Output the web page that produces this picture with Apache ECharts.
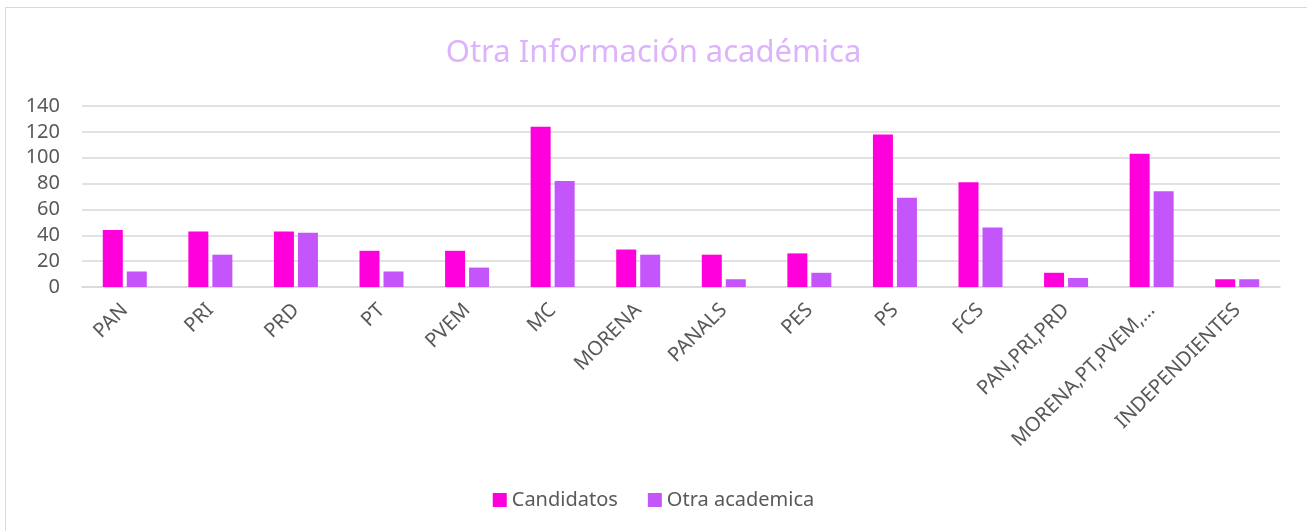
<!DOCTYPE html>
<html>
<head>
<meta charset="utf-8">
<script src="https://cdn.jsdelivr.net/npm/echarts@6/dist/echarts.min.js"></script>
<style>
  html, body { margin: 0; padding: 0; background: #fff; }
  #frame { position: absolute; left: 5px; top: 7px; width: 1310px; height: 530px; border: 1px solid #d9d9d9; }
  #chart { position: absolute; left: 0; top: 0; width: 1307px; height: 531px; }
</style>
</head>
<body>
<div id="frame"></div>
<div id="chart"></div>
<script>
// datos
var categorias = ['PAN', 'PRI', 'PRD', 'PT', 'PVEM', 'MC', 'MORENA', 'PANALS', 'PES', 'PS', 'FCS', 'PAN,PRI,PRD', 'MORENA,PT,PVEM,…', 'INDEPENDIENTES'];
var candidatos = [44, 43, 43, 28, 28, 124, 29, 25, 26, 118, 81, 11, 103, 6];
var otraAcademica = [12, 25, 42, 12, 15, 82, 25, 6, 11, 69, 46, 7, 74, 6];
var yTicks = [0, 20, 40, 60, 80, 100, 120, 140];

var myChart = echarts.init(document.getElementById('chart'));
var option = {
  backgroundColor: 'transparent',
  title: {
    text: 'Otra Información académica',
    left: 'center',
    top: 33,
    textStyle: { color: '#DDB3FB', fontSize: 31, fontWeight: 'normal', fontFamily: 'Noto Sans' }
  },
  legend: {
    bottom: 16,
    left: 'center',
    itemWidth: 14,
    itemHeight: 14,
    itemGap: 30,
    icon: 'rect',
    textStyle: { color: '#595959', fontSize: 20, fontFamily: 'Noto Sans' },
    data: ['Candidatos', 'Otra academica']
  },
  grid: { left: 82, right: 27, top: 106, bottom: 244 },
  xAxis: {
    type: 'category',
    data: categorias,
    axisLine: { lineStyle: { color: '#d9d9d9', width: 1.5 } },
    axisTick: { show: false },
    axisLabel: {
      rotate: 45,
      interval: 0,
      color: '#595959',
      fontSize: 20,
      fontFamily: 'Noto Sans',
      margin: 20
    }
  },
  yAxis: {
    type: 'value',
    min: yTicks[0],
    max: yTicks[yTicks.length - 1],
    interval: 20,
    axisLine: { show: false },
    axisTick: { show: false },
    splitLine: { lineStyle: { color: '#d9d9d9', width: 1.5 } },
    axisLabel: { color: '#595959', fontSize: 20, fontFamily: 'Noto Sans', margin: 22 }
  },
  series: [
    {
      name: 'Candidatos',
      type: 'bar',
      barWidth: 20,
      barGap: '20%',
      itemStyle: { color: '#FF00DC' },
      data: candidatos
    },
    {
      name: 'Otra academica',
      type: 'bar',
      barWidth: 20,
      itemStyle: { color: '#C455FB' },
      data: otraAcademica
    }
  ]
};
myChart.setOption(option);
</script>
</body>
</html>
